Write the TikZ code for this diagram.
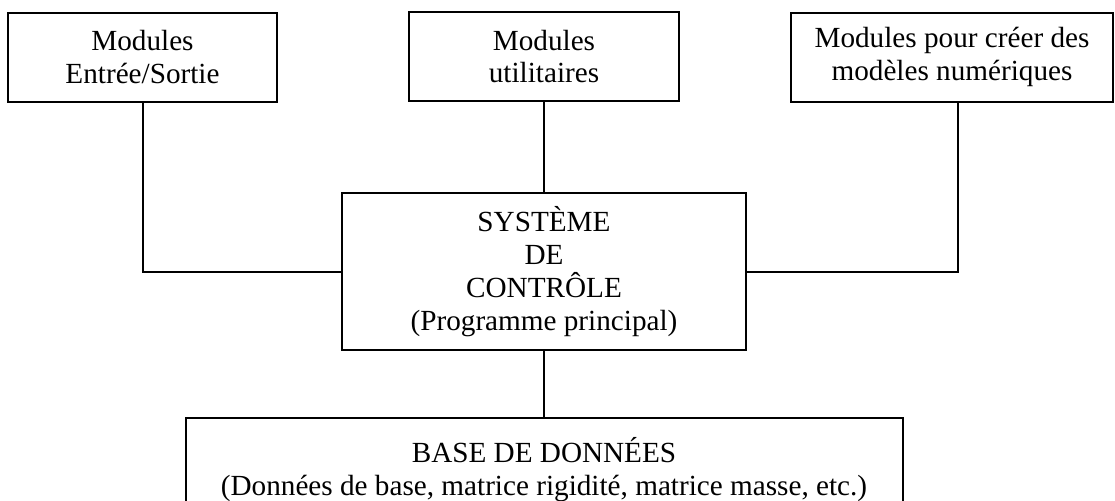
\documentclass[tikz,border=0pt]{standalone}
\usepackage{fontspec}
\setmainfont{Liberation Serif}
\usetikzlibrary{positioning}

\begin{document}
\begin{tikzpicture}[
        x=0.5pt,
        y=-0.5pt,
        module/.style={
            draw,
            line width=1pt,
            align=center,
            inner sep=0pt,
            font=\fontsize{14.6}{16.4}\selectfont
        }
    ]

    \useasboundingbox (0,0) rectangle (1115,500);

    % --------------------------------------------------------
    % Modules
    % --------------------------------------------------------

    \node[
        module,
        minimum width=134.5pt,
        minimum height=44.5pt
    ]
    (es)
    at (142.5,57)
    {Modules\\Entrée/Sortie};

    \node[
        module,
        minimum width=135pt,
        minimum height=44.5pt
    ]
    (util)
    at (544,56.5)
    {Modules\\utilitaires};

    \node[
        module,
        minimum width=161pt,
        minimum height=44.5pt
    ]
    (num)
    at (952,57)
    {Modules pour créer des\\modèles numériques};

    % --------------------------------------------------------
    % Control system
    % --------------------------------------------------------

    \node[
        module,
        minimum width=202pt,
        minimum height=78.5pt
    ]
    (ctrl)
    at (544,271.5)
    {SYSTÈME\\DE\\CONTRÔLE\\(Programme principal)};

    % --------------------------------------------------------
    % Database
    % --------------------------------------------------------

    \node[
        module,
        minimum width=358.5pt,
        minimum height=52pt
    ]
    (base)
    at (544,470)
    {BASE DE DONNÉES\\(Données de base, matrice rigidité, matrice masse, etc.)};

    % --------------------------------------------------------
    % Connections
    % --------------------------------------------------------

    \draw[
        line width=1pt
    ]
    (es.south)
    |- (ctrl.west);

    \draw[
        line width=1pt
    ]
    (util.south)
    -- (ctrl.north);

    \draw[
        line width=1pt
    ]
    ([xshift=3pt]num.south)
    |- (ctrl.east);

    \draw[
        line width=1pt
    ]
    (ctrl.south)
    -- (base.north);

\end{tikzpicture}
\end{document}
